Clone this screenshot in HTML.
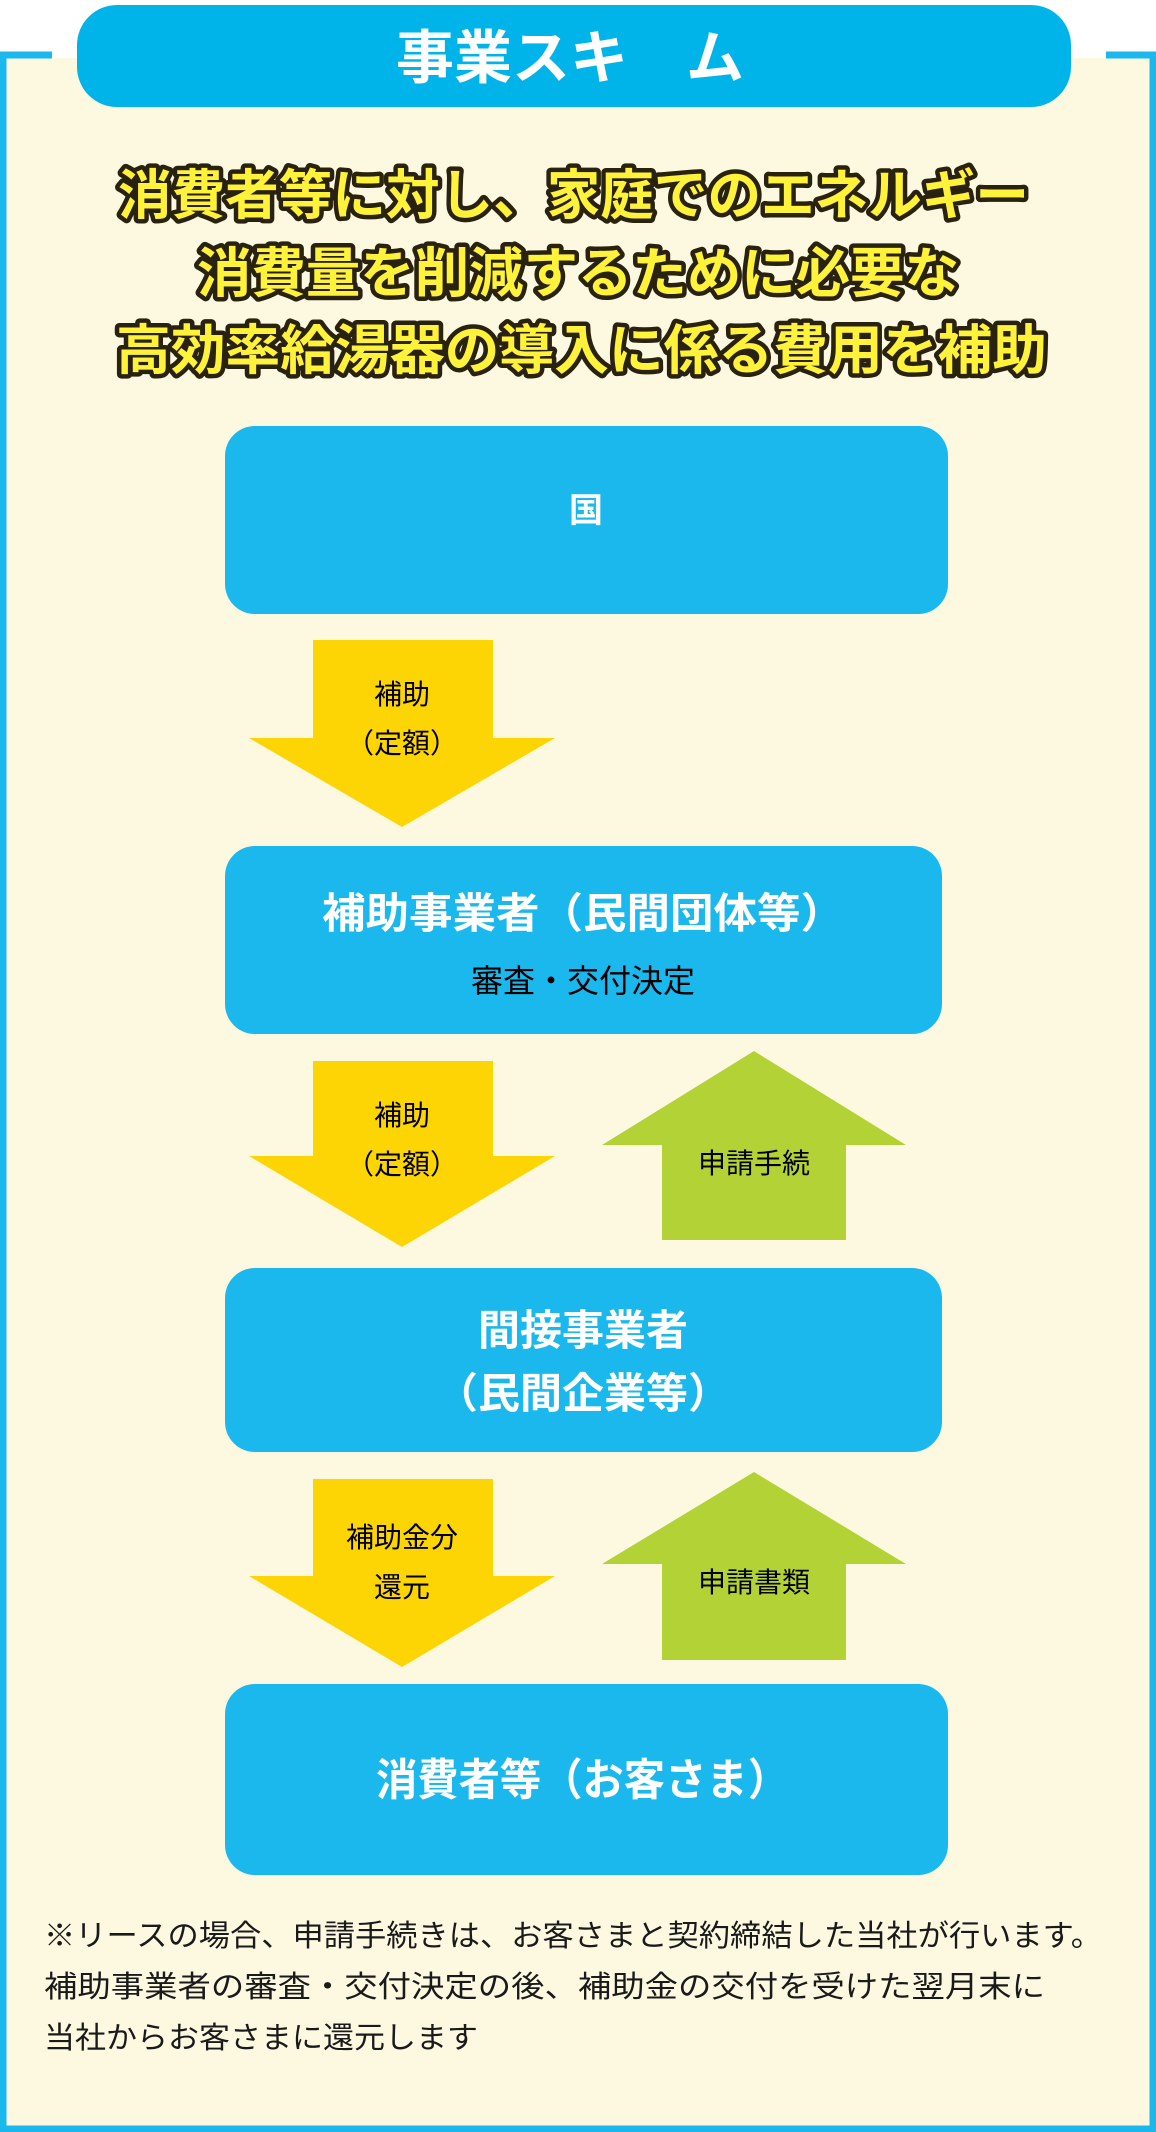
<!DOCTYPE html>
<html><head><meta charset="utf-8"><style>
html,body{margin:0;padding:0;background:#fdf9e1;}
svg{display:block;}
text{font-family:"Liberation Sans","Noto Sans CJK JP",sans-serif;}
</style></head><body>
<svg width="1156" height="2132" viewBox="0 0 1156 2132" xmlns="http://www.w3.org/2000/svg">
<rect x="0" y="0" width="1156" height="2132" fill="#fdf9e1"/>
<rect x="0" y="0" width="1156" height="52" fill="#fff"/>
<rect x="3" y="55" width="1150" height="2074" fill="#fdf9e1" stroke="#1ab8ec" stroke-width="7"/>
<rect x="52" y="48" width="1054" height="12" fill="#fff"/>
<rect x="52" y="58" width="1054" height="10" fill="#fdf9e1"/>
<rect x="77" y="5" width="994" height="102" rx="40" fill="#00b4ea"/>
<text x="570" y="78" font-size="58" font-weight="bold" fill="#fff" text-anchor="middle">事業スキ　ム</text>
<g font-size="54" font-weight="bold" fill="#fff23a" stroke="#2a2210" stroke-width="9" stroke-linejoin="round" paint-order="stroke fill" lengthAdjust="spacingAndGlyphs">
<text x="118" y="214" textLength="911" lengthAdjust="spacingAndGlyphs">消費者等に対し、家庭でのエネルギー</text>
<text x="197" y="292" textLength="762" lengthAdjust="spacingAndGlyphs">消費量を削減するために必要な</text>
<text x="116" y="369" textLength="931" lengthAdjust="spacingAndGlyphs">高効率給湯器の導入に係る費用を補助</text>
</g>
<rect x="225" y="426" width="723" height="188" rx="30" fill="#1ab8ec"/>
<text x="586" y="522" font-size="34" font-weight="bold" fill="#fff" text-anchor="middle">国</text>
<rect x="225" y="846" width="717" height="188" rx="30" fill="#1ab8ec"/>
<text x="322" y="928" font-size="42" font-weight="bold" fill="#fff" textLength="522" lengthAdjust="spacingAndGlyphs">補助事業者（民間団体等）</text>
<text x="583" y="992" font-size="32" fill="#000" text-anchor="middle">審査・交付決定</text>
<rect x="225" y="1268" width="717" height="184" rx="30" fill="#1ab8ec"/>
<text x="583" y="1345" font-size="42" font-weight="bold" fill="#fff" text-anchor="middle">間接事業者</text>
<text x="583" y="1408" font-size="42" font-weight="bold" fill="#fff" text-anchor="middle">（民間企業等）</text>
<rect x="225" y="1684" width="723" height="191" rx="30" fill="#1ab8ec"/>
<text x="376" y="1795" font-size="44" font-weight="bold" fill="#fff" textLength="413" lengthAdjust="spacingAndGlyphs">消費者等（お客さま）</text>
<g fill="#fed504">
<polygon points="313,640 493,640 493,738 555,738 402,827 249,738 313,738"/>
<polygon points="313,1061 493,1061 493,1156 555,1156 402,1247 249,1156 313,1156"/>
<polygon points="313,1479 493,1479 493,1576 555,1576 402,1667 249,1576 313,1576"/>
</g>
<g fill="#b3d236">
<polygon points="754,1051 906,1145 846,1145 846,1240 662,1240 662,1145 602,1145"/>
<polygon points="754,1472 906,1564 846,1564 846,1660 662,1660 662,1564 602,1564"/>
</g>
<g font-size="28" fill="#000" text-anchor="middle">
<text x="402" y="704">補助</text>
<text x="402" y="753">（定額）</text>
<text x="402" y="1125">補助</text>
<text x="402" y="1174">（定額）</text>
<text x="402" y="1547">補助金分</text>
<text x="402" y="1597">還元</text>
<text x="754" y="1173">申請手続</text>
<text x="754" y="1592">申請書類</text>
</g>
<g font-size="30" fill="#1a1a1a">
<text x="44" y="1946" textLength="1058" lengthAdjust="spacingAndGlyphs">※リースの場合、申請手続きは、お客さまと契約締結した当社が行います。</text>
<text x="44" y="1997" textLength="1001" lengthAdjust="spacingAndGlyphs">補助事業者の審査・交付決定の後、補助金の交付を受けた翌月末に</text>
<text x="44" y="2048" textLength="434" lengthAdjust="spacingAndGlyphs">当社からお客さまに還元します</text>
</g>
</svg>
</body></html>
